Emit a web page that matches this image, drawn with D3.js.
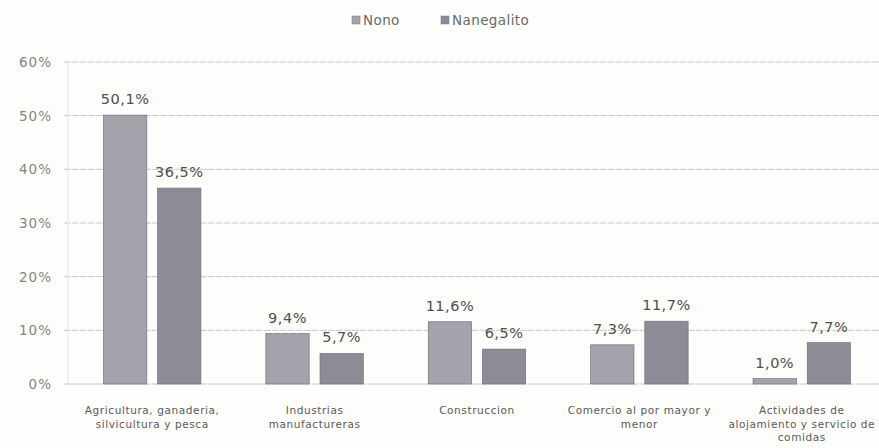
<!DOCTYPE html>
<html>
<head>
<meta charset="utf-8">
<script src="https://cdnjs.cloudflare.com/ajax/libs/d3/7.8.5/d3.min.js"></script>
<style>
  body { margin: 0; background: #fdfdfc; }
  text { font-family: "DejaVu Sans", sans-serif; }
</style>
</head>
<body>
<script>
    // data
    var categories = [
        ["Agricultura, ganaderia,", "silvicultura y pesca"],
        ["Industrias", "manufactureras"],
        ["Construccion"],
        ["Comercio al por mayor y", "menor"],
        ["Actividades de", "alojamiento y servicio de", "comidas"]
    ];
    var seriesNames = ["Nono", "Nanegalito"];
    var nono = [50.1, 9.4, 11.6, 7.3, 1.0];
    var nanegalito = [36.5, 5.7, 6.5, 11.7, 7.7];
    var yTicks = [0, 10, 20, 30, 40, 50, 60];

    var width = 879, height = 448;
    var colors = ["#a3a3ab", "#8c8c96"];

    var svg = d3.select("body").append("svg")
        .attr("width", width)
        .attr("height", height);

    var x0 = d3.scaleBand()
        .domain(d3.range(categories.length))
        .range([71, 883]);

    var x1 = d3.scaleBand()
        .domain([0, 1])
        .range([0, x0.bandwidth()])
        .paddingInner(0.2)
        .paddingOuter(0.6);

    var y = d3.scaleLinear()
        .domain([0, 60])
        .range([384, 62]);

    // gridlines
    svg.append("g")
        .selectAll("line")
        .data(yTicks)
        .enter()
        .append("line")
        .attr("x1", 64)
        .attr("x2", width)
        .attr("y1", d => y(d))
        .attr("y2", d => y(d))
        .attr("stroke", "#c8c8c8")
        .attr("stroke-width", 1)
        .attr("stroke-dasharray", "7,1");

    // faint left axis
    svg.append("line")
        .attr("x1", 68).attr("x2", 68)
        .attr("y1", y(60)).attr("y2", y(0))
        .attr("stroke", "#e2e2e2");

    // y tick labels
    svg.append("g")
        .selectAll("text")
        .data(yTicks)
        .enter()
        .append("text")
        .attr("x", 52)
        .attr("y", d => y(d) + 5)
        .attr("text-anchor", "end")
        .style("font-size", "13.5px")
        .style("letter-spacing", "1px")
        .style("fill", "#858585")
        .text(d => d + "%");

    var series = [nono, nanegalito];

    // bars + labels
    series.forEach(function(vals, s) {
        var g = svg.append("g");
        g.selectAll("rect")
            .data(vals)
            .enter()
            .append("rect")
            .attr("x", (d, i) => x0(i) + x1(s))
            .attr("y", d => y(d))
            .attr("width", x1.bandwidth())
            .attr("height", d => y(0) - y(d))
            .attr("fill", colors[s])
            .attr("stroke", "#74747c")
            .attr("stroke-width", 0.7);

        g.selectAll("text")
            .data(vals)
            .enter()
            .append("text")
            .attr("x", (d, i) => x0(i) + x1(s) + x1.bandwidth() / 2)
            .attr("y", d => y(d) - 11)
            .attr("text-anchor", "middle")
            .style("font-size", "14.5px")
            .style("letter-spacing", "0.5px")
            .style("fill", "#4e4e4e")
            .text(d => d.toFixed(1).replace(".", ",") + "%");
    });

    // category labels
    var cat = svg.append("g")
        .selectAll("text")
        .data(categories)
        .enter()
        .append("text")
        .attr("x", (d, i) => x0(i) + x0.bandwidth() / 2)
        .attr("y", 414)
        .attr("text-anchor", "middle")
        .style("font-size", "10.5px")
        .style("letter-spacing", "0.6px")
        .style("fill", "#5a5a5a");

    cat.selectAll("tspan")
        .data(d => d)
        .enter()
        .append("tspan")
        .attr("x", function() { return this.parentNode.getAttribute("x"); })
        .attr("dy", (d, i) => i === 0 ? 0 : 13.5)
        .text(d => d);

    // legend
    var legend = svg.append("g");
    var legX = [352, 441];
    seriesNames.forEach(function(name, s) {
        legend.append("rect")
            .attr("x", legX[s])
            .attr("y", 16)
            .attr("width", 8)
            .attr("height", 8)
            .attr("fill", colors[s])
            .attr("stroke", "#77777f")
            .attr("stroke-width", 0.5);
        legend.append("text")
            .attr("x", legX[s] + 11)
            .attr("y", 25)
            .style("font-size", "13.5px")
            .style("letter-spacing", "0.4px")
            .style("fill", "#6a6a6a")
            .text(name);
    });
</script>
</body>
</html>
